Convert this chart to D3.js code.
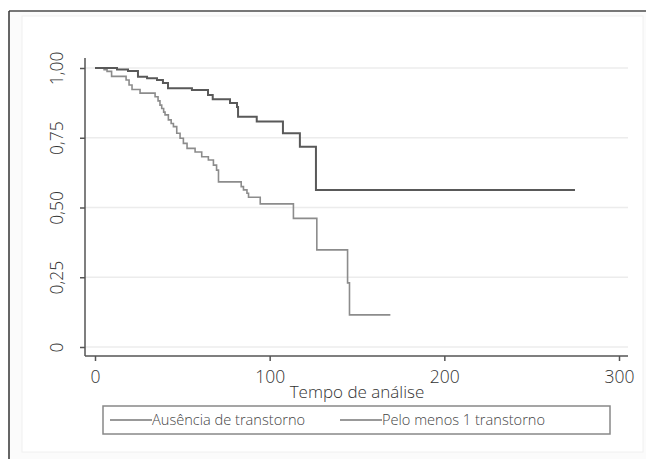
<!DOCTYPE html>
<html>
<head>
<meta charset="utf-8">
<script src="https://cdn.jsdelivr.net/npm/d3@7"></script>
<style>
  body { margin: 0; background: #fff; }
  text { font-family: "Open Sans", "Noto Sans", sans-serif; font-weight: 300; fill: #333; }
</style>
</head>
<body>
<div id="chart"></div>
<script>
var svgWidth = 646;
var svgHeight = 459;

// Kaplan-Meier steps (time, survival after the step)
var absTime = [0, 12.6, 18.9, 24.6, 29.8, 35.5, 38.9, 41.8, 55.5, 64.7, 67.4, 77.3, 81.3, 81.9, 92.6, 107.6, 117.3, 126.5, 274.8];
var absSurv = [1, 0.995, 0.989, 0.969, 0.963, 0.957, 0.946, 0.927, 0.921, 0.903, 0.888, 0.875, 0.860, 0.825, 0.808, 0.766, 0.718, 0.563, 0.563];

var oneTime = [0, 5.2, 6.9, 9.5, 17.8, 19.5, 21.2, 25.8, 34.4, 36.1, 37.2, 38.2, 39.3, 40.1, 42.0, 43.6, 44.9, 46.8, 48.7, 50.6, 52.7, 57.3, 61.1, 64.9, 67.8, 69.6, 70.7, 83.7, 85.0, 87.0, 87.9, 94.6, 113.6, 127.0, 144.6, 145.7, 169.1];
var oneSurv = [1, 0.994, 0.988, 0.970, 0.957, 0.939, 0.923, 0.910, 0.897, 0.882, 0.867, 0.855, 0.842, 0.832, 0.814, 0.801, 0.790, 0.766, 0.748, 0.730, 0.712, 0.699, 0.682, 0.670, 0.652, 0.634, 0.592, 0.575, 0.563, 0.551, 0.537, 0.513, 0.461, 0.348, 0.230, 0.115, 0.115];

var xTicks = [0, 100, 200, 300];
var yTicks = [0, 0.25, 0.5, 0.75, 1];
var seriesNames = ["Ausência de transtorno", "Pelo menos 1 transtorno"];
var seriesColors = ["#595959", "#8c8c8c"];

// plot box
var plot = { left: 85, right: 628, top: 58, bottom: 356 };

var svg = d3.select("#chart")
  .append("svg")
  .attr("width", svgWidth)
  .attr("height", svgHeight);

// outer frame (image is cropped, only top and left edges show)
svg.append("rect")
  .attr("x", 9).attr("y", 11)
  .attr("width", svgWidth).attr("height", svgHeight)
  .attr("fill", "#fbfbfb");
svg.append("rect")
  .attr("x", 22).attr("y", 16)
  .attr("width", 621).attr("height", 436)
  .attr("fill", "#fff")
  .attr("stroke", "#f0f0f0");
svg.append("line")
  .attr("x1", 9).attr("x2", svgWidth).attr("y1", 11).attr("y2", 11)
  .attr("stroke", "#777").attr("stroke-width", 2);
svg.append("line")
  .attr("x1", 9).attr("x2", 9).attr("y1", 11).attr("y2", svgHeight)
  .attr("stroke", "#333").attr("stroke-width", 1.5);

var x = d3.scaleLinear().domain([0, 300]).range([95, 619]);
var y = d3.scaleLinear().domain([0, 1]).range([347, 68]);

// grid
svg.append("g")
  .selectAll("line")
  .data(yTicks)
  .enter()
  .append("line")
  .attr("x1", plot.left)
  .attr("x2", plot.right)
  .attr("y1", d => y(d))
  .attr("y2", d => y(d))
  .attr("stroke", "#ececec")
  .attr("stroke-width", 1.5);

// y axis
var yFmt = d => d === 0 ? "0" : d3.format(".2f")(d).replace(".", ",");
var yAxis = svg.append("g")
  .attr("transform", `translate(${plot.left},0)`)
  .call(d3.axisLeft(y).tickValues(yTicks).tickFormat(yFmt).tickSize(5));
yAxis.select(".domain").remove();
yAxis.selectAll(".tick line").attr("stroke", "#555").attr("stroke-width", 1.5);
yAxis.selectAll(".tick text")
  .attr("x", null)
  .attr("dy", null)
  .attr("transform", "translate(-22,0) rotate(-90)")
  .attr("text-anchor", "middle")
  .style("font-size", "17.5px")
  .style("fill", "#333");

// x axis
var xAxis = svg.append("g")
  .attr("transform", `translate(0,${plot.bottom})`)
  .call(d3.axisBottom(x).tickValues(xTicks).tickSize(5));
xAxis.select(".domain").remove();
xAxis.selectAll(".tick line").attr("stroke", "#555").attr("stroke-width", 1.5);
xAxis.selectAll(".tick text")
  .attr("y", 27)
  .attr("dy", null)
  .style("font-size", "17.5px")
  .style("fill", "#333");

// axis lines
svg.append("line")
  .attr("x1", plot.left).attr("x2", plot.left)
  .attr("y1", plot.top).attr("y2", plot.bottom)
  .attr("stroke", "#555").attr("stroke-width", 1.5);
svg.append("line")
  .attr("x1", plot.left).attr("x2", plot.right)
  .attr("y1", plot.bottom).attr("y2", plot.bottom)
  .attr("stroke", "#555").attr("stroke-width", 1.5);

// curves
var line = d3.line()
  .x(d => x(d[0]))
  .y(d => y(d[1]))
  .curve(d3.curveStepAfter);

var series = [
  d3.zip(absTime, absSurv),
  d3.zip(oneTime, oneSurv)
];

svg.append("path")
  .attr("d", line(series[1]))
  .attr("fill", "none")
  .attr("stroke", seriesColors[1])
  .attr("stroke-width", 1.6);

svg.append("path")
  .attr("d", line(series[0]))
  .attr("fill", "none")
  .attr("stroke", seriesColors[0])
  .attr("stroke-width", 2);

// x axis title
svg.append("text")
  .attr("x", 357)
  .attr("y", 398)
  .attr("text-anchor", "middle")
  .style("font-size", "17px")
  .text("Tempo de análise");

// legend
svg.append("rect")
  .attr("x", 103).attr("y", 406)
  .attr("width", 507).attr("height", 28)
  .attr("fill", "#fff")
  .attr("stroke", "#888")
  .attr("stroke-width", 1.5);

var legendX = [110, 340];
seriesNames.forEach(function(name, i) {
  svg.append("line")
    .attr("x1", legendX[i]).attr("x2", legendX[i] + 42)
    .attr("y1", 420).attr("y2", 420)
    .attr("stroke", "#777")
    .attr("stroke-width", 1.5);
  svg.append("text")
    .attr("x", legendX[i] + 42)
    .attr("y", 425)
    .style("font-size", "14.6px")
    .style("fill", "#444")
    .text(name);
});
</script>
</body>
</html>
